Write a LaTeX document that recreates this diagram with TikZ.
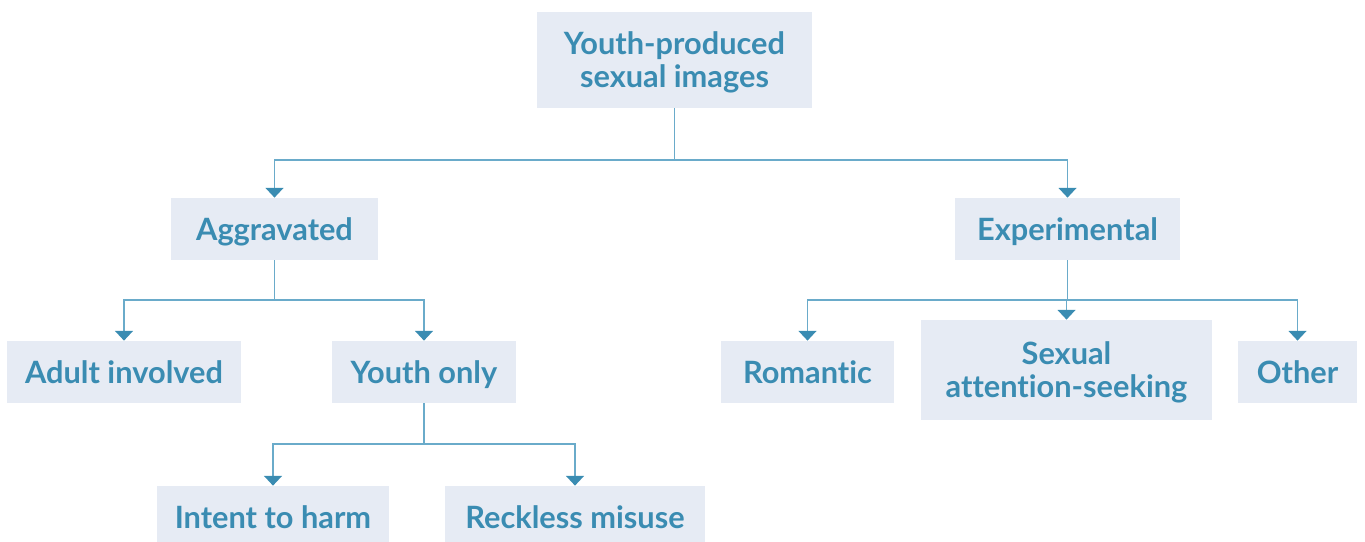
\documentclass[tikz,border=0pt]{standalone}
\usepackage{fontspec}
\setmainfont{Lato}[Ligatures={NoCommon}]
\usetikzlibrary{arrows.meta}
\definecolor{boxfill}{HTML}{E6EBF4}
\definecolor{inkblue}{HTML}{3A8CB2}
\definecolor{lineblue}{HTML}{6AABCA}
\tikzset{catbox/.style={fill=boxfill, text=inkblue, inner sep=0pt, align=center, text depth=0pt, font=\fontsize{17.5}{18.8}\selectfont\bfseries}}
\tikzset{link/.style={draw=lineblue, line width=1.1pt, -{Triangle[width=10pt,length=5.5pt,color=inkblue]}}}
\newcommand{\catnode}[5] {\node at (#1) (#2) [catbox, minimum width=#3*0.02cm, minimum height=#4*0.02cm] {#5};}
\newcommand{\catbranch}[3] {\draw [link] (#1.south) -- (#1.south |- 0,#3) -| (#2.north);}

\begin{document}
\begin{tikzpicture}[x=0.02cm, y=-0.02cm]
\useasboundingbox (0,0) rectangle (1365,541);
\catnode {674.5,60} {root} {275}{96} {Youth-produced\\sexual images};
\catnode {274.5,229} {aggr} {207}{62} {Aggravated};
\catnode {1067.5,229} {expt} {225}{62} {Experimental};
\catnode {124,372} {adult} {234}{62} {Adult involved};
\catnode {424,372} {youth} {184}{62} {Youth only};
\catnode {273,517} {intent} {232}{62} {Intent to harm};
\catnode {575,517} {reckless} {260}{62} {Reckless misuse};
\catnode {807.5,372} {romantic} {173}{62} {Romantic};
\catnode {1066.5,370} {seeking} {291}{100} {Sexual\\attention-seeking};
\catnode {1297.5,372} {other} {119}{62} {Other};

\catbranch{root}{aggr}{160};
\catbranch{root}{expt}{160};

\catbranch{aggr}{adult}{300};
\catbranch{aggr}{youth}{300};

\catbranch{youth}{intent}{444};
\catbranch{youth}{reckless}{444};

\catbranch{expt}{romantic}{300};
\catbranch{expt}{seeking}{300};
\catbranch{expt}{other}{300};
\end{tikzpicture}
\end{document}
